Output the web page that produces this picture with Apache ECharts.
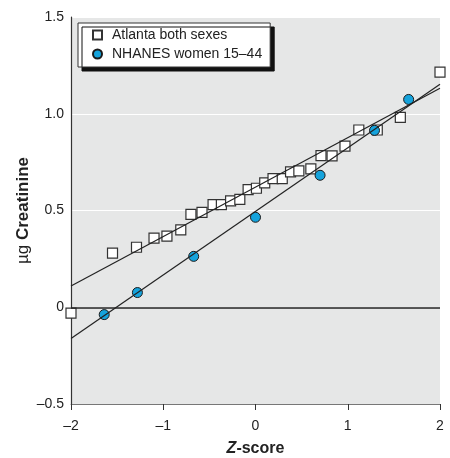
<!DOCTYPE html>
<html>
<head>
<meta charset="utf-8">
<script src="https://cdn.jsdelivr.net/npm/echarts@6/dist/echarts.min.js"></script>
<style>
html,body{margin:0;padding:0;background:#fff;}
#chart{width:450px;height:458px;}
</style>
</head>
<body>
<div id="chart"></div>
<script>
// Data
const atlantaZ = [-2.0, -1.55, -1.29, -1.10, -0.96, -0.81, -0.70, -0.58, -0.46, -0.37, -0.27, -0.17, -0.08, 0.01, 0.10, 0.19, 0.29, 0.38, 0.47, 0.60, 0.71, 0.83, 0.97, 1.12, 1.32, 1.57, 2.0];
const atlantaY = [-0.03, 0.28, 0.31, 0.357, 0.368, 0.40, 0.48, 0.49, 0.53, 0.53, 0.55, 0.558, 0.608, 0.615, 0.643, 0.665, 0.665, 0.70, 0.705, 0.715, 0.784, 0.782, 0.833, 0.916, 0.916, 0.981, 1.215];
const nhanesZ = [-1.64, -1.28, -0.67, 0.0, 0.70, 1.29, 1.66];
const nhanesY = [-0.038, 0.076, 0.263, 0.465, 0.682, 0.914, 1.074];
const fitZ = [-2, 2];
const atlantaFitY = [0.11, 1.132];
const nhanesFitY = [-0.161, 1.153];
const xTicks = [-2, -1, 0, 1, 2];
const yTicks = [-0.5, 0, 0.5, 1.0, 1.5];
const seriesNames = ['Atlanta both sexes', 'NHANES women 15\u201344'];

const zip = (xs, ys) => xs.map((x, i) => [x, ys[i]]);
const FONT = '"Liberation Sans", Arial, sans-serif';
const fmtX = v => (v < 0 ? '\u2013' + Math.abs(v) : String(v));
const fmtY = v => {
  if (v === 0) return '0';
  const s = Math.abs(v).toFixed(1);
  return v < 0 ? '\u2013' + s : s;
};

const chart = echarts.init(document.getElementById('chart'), null, {renderer: 'canvas'});
chart.setOption({
  animation: false,
  backgroundColor: '#ffffff',
  grid: {
    left: 71, right: 10, top: 17, bottom: 54,
    containLabel: false, outerBoundsMode: 'none',
    show: true, backgroundColor: '#e6e7e7', borderWidth: 0
  },
  legend: {
    orient: 'vertical',
    left: 78, top: 23,
    padding: [4, 8, 5, 14],
    itemGap: 3,
    itemWidth: 9, itemHeight: 9,
    backgroundColor: '#ffffff',
    borderColor: '#333333', borderWidth: 1,
    shadowColor: '#111111', shadowBlur: 0, shadowOffsetX: 4, shadowOffsetY: 4,
    data: seriesNames,
    textStyle: {fontFamily: FONT, fontSize: 14, color: '#222', lineHeight: 16, padding: [0, 0, 0, 5]}
  },
  xAxis: {
    type: 'value', min: -2, max: 2, interval: 1,
    name: '{i|Z}{b|-score}', nameLocation: 'middle', nameGap: 37,
    nameMoveOverlap: false,
    nameTextStyle: {
      rich: {
        i: {fontFamily: FONT, fontSize: 16, fontWeight: 'bold', fontStyle: 'italic', color: '#222'},
        b: {fontFamily: FONT, fontSize: 16, fontWeight: 'bold', color: '#222'}
      }
    },
    axisLine: {show: true, onZero: false, lineStyle: {color: '#777', width: 1}},
    axisTick: {show: true, length: 6, inside: false, lineStyle: {color: '#333', width: 1}},
    axisLabel: {fontFamily: FONT, fontSize: 14, color: '#222', margin: 15, formatter: fmtX},
    splitLine: {show: false}
  },
  yAxis: {
    type: 'value', min: -0.5, max: 1.5, interval: 0.5,
    name: '{a|\u00b5g }{b|Creatinine}', nameLocation: 'middle', nameGap: 39,
    nameMoveOverlap: false,
    nameTextStyle: {
      rich: {
        a: {fontFamily: FONT, fontSize: 17, color: '#222'},
        b: {fontFamily: FONT, fontSize: 17, fontWeight: 'bold', color: '#222'}
      }
    },
    axisLine: {show: true, onZero: false, lineStyle: {color: '#333', width: 1.2}},
    axisTick: {show: false},
    axisLabel: {fontFamily: FONT, fontSize: 14, color: '#222', margin: 7, formatter: fmtY},
    splitLine: {show: true, lineStyle: {color: '#ffffff', width: 1}}
  },
  series: [
    {
      name: 'zero', type: 'line', data: [], silent: true,
      markLine: {
        silent: true, symbol: 'none', label: {show: false},
        lineStyle: {color: '#222', width: 1.5, type: 'solid'},
        data: [{yAxis: 0}]
      }
    },
    {
      name: 'Atlanta fit', type: 'line', data: zip(fitZ, atlantaFitY),
      showSymbol: false, silent: true,
      lineStyle: {color: '#222', width: 1.2}
    },
    {
      name: 'NHANES fit', type: 'line', data: zip(fitZ, nhanesFitY),
      showSymbol: false, silent: true,
      lineStyle: {color: '#222', width: 1.2}
    },
    {
      name: seriesNames[0], type: 'scatter', data: zip(atlantaZ, atlantaY),
      symbol: 'rect', symbolSize: 10,
      itemStyle: {color: '#ffffff', borderColor: '#333333', borderWidth: 1.2, opacity: 1}
    },
    {
      name: seriesNames[1], type: 'scatter', data: zip(nhanesZ, nhanesY),
      symbol: 'circle', symbolSize: 10,
      itemStyle: {color: '#15a3dc', borderColor: '#1a1a1a', borderWidth: 1, opacity: 1}
    }
  ]
});
</script>
</body>
</html>
